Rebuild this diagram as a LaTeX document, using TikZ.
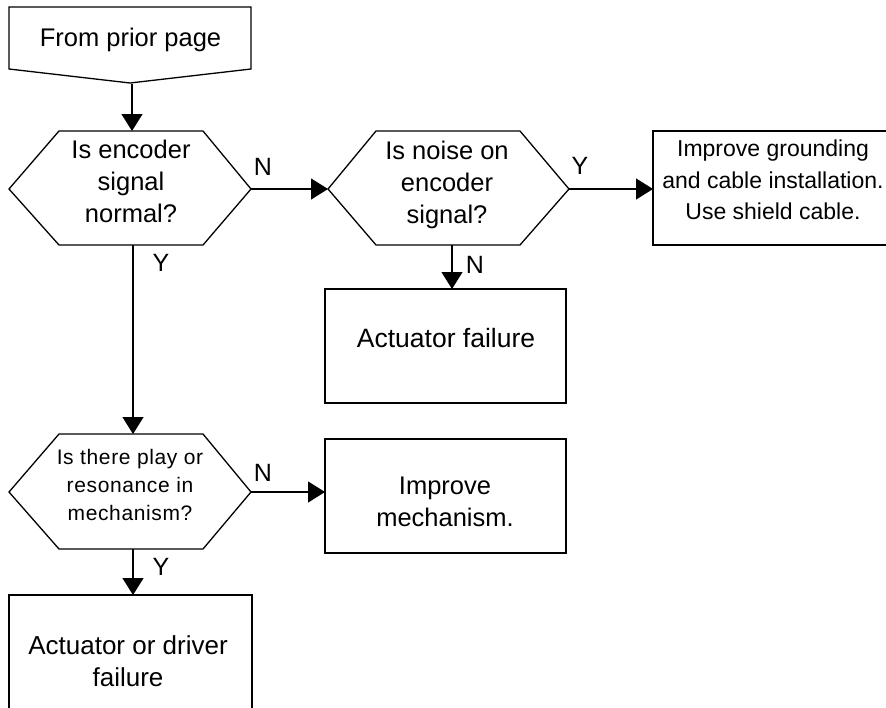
\documentclass[tikz,border=0pt]{standalone}
\usepackage{fontspec}
\setmainfont{Liberation Sans}
\newfontfamily\spacedfont[LetterSpace=3]{Liberation Sans}
\usetikzlibrary{arrows.meta}
\tikzset{
  shape line/.style={draw=black, line width=1.3pt, line join=miter},
  conn/.style={draw=black, line width=1.3pt, -{Triangle[length=17pt,width=21pt]}},
  txt/.style={align=center, inner sep=0pt, font=\fontsize{25.5}{32}\selectfont},
  lbl/.style={inner sep=0pt, font=\fontsize{25}{28}\selectfont}
}
\begin{document}
\begin{tikzpicture}[x=1pt, y=-1pt]
\useasboundingbox (0,0) rectangle (886,707);
\clip (0,0) rectangle (886,707);
\fill[white] (0,0) rectangle (886,707);

% shapes
\draw[shape line] (9,7) -- (251,7) -- (251,69) -- (130,83) -- (9,69) -- cycle;
\draw[shape line] (9,189) -- (59,131) -- (203,131) -- (251,189) -- (203,245) -- (59,245) -- cycle;
\draw[shape line] (328,189) -- (376,131) -- (520,131) -- (569,189) -- (520,245) -- (376,245) -- cycle;
\draw[shape line] (653,131) rectangle (897,245);
\draw[shape line] (325,289) rectangle (566,403);
\draw[shape line] (9,492) -- (59,434) -- (203,434) -- (251,492) -- (203,549) -- (59,549) -- cycle;
\draw[shape line] (325,439) rectangle (566,553);
\draw[shape line] (9,595) rectangle (252,715);

% texts
\node[txt] (fp) at (130.5,40) {From prior page};
\node[txt] (h1) at (131,181) {Is encoder\\signal\\normal?};
\node[txt] (h2) at (447,185) {Is noise on\\encoder\\signal?};
\node[txt, font=\fontsize{23}{31.5}\selectfont] (b3) at (773,180) {Improve grounding\\and cable installation.\\Use shield cable.};
\node[txt, font=\fontsize{26.5}{32}\selectfont] (b4) at (446,338) {Actuator failure};
\node[txt, font=\spacedfont\fontsize{21}{28}\selectfont] (h3) at (130,485) {Is there play or\\resonance in\\mechanism?};
\node[txt] (b5) at (445,502) {Improve\\mechanism.};
\node[txt, font=\fontsize{26}{32}\selectfont] (b6) at (128,661) {Actuator or driver\\failure};

% connector end points
\coordinate (fpS) at (132,84);
\coordinate (h1N) at (132,131);
\coordinate (h1E) at (251,189);
\coordinate (h1S) at (133,245);
\coordinate (h2W) at (328,189);
\coordinate (h2E) at (569,189);
\coordinate (h2S) at (452,245);
\coordinate (b3W) at (653,189);
\coordinate (b4N) at (452,289);
\coordinate (h3N) at (133,434);
\coordinate (h3E) at (251,492);
\coordinate (h3S) at (133,549);
\coordinate (b5W) at (325,492);
\coordinate (b6N) at (133,595);

% connectors
\draw[conn] (fpS) -- (h1N);
\draw[conn] (h1E) -- (h2W);
\draw[conn] (h2E) -- (b3W);
\draw[conn] (h2S) -- (b4N);
\draw[conn] (h1S) -- (h3N);
\draw[conn] (h3E) -- (b5W);
\draw[conn] (h3S) -- (b6N);

% labels
\node[lbl] (l1) at (263,167) {N};
\node[lbl] (l2) at (580,166) {Y};
\node[lbl] (l3) at (475,265) {N};
\node[lbl] (l4) at (161,263) {Y};
\node[lbl] (l5) at (263,473) {N};
\node[lbl] (l6) at (161,567) {Y};
\end{tikzpicture}
\end{document}
